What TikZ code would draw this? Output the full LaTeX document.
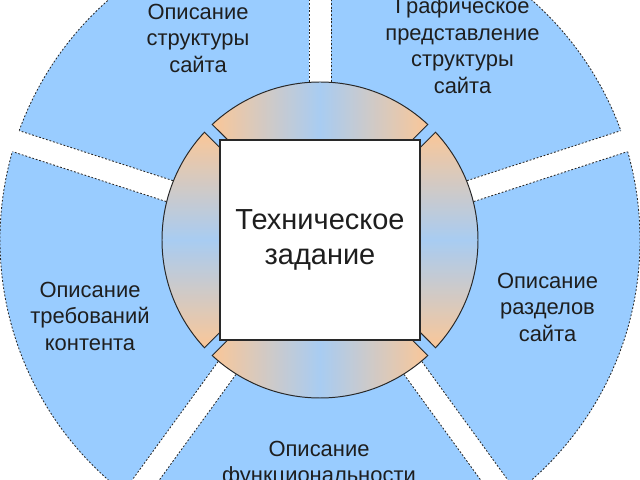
\documentclass[tikz,border=0pt]{standalone}
\usepackage{fontspec}
\setmainfont{Liberation Sans}
\definecolor{skyb}{RGB}{153,204,255}
\definecolor{orng}{RGB}{250,199,152}
\definecolor{midb}{RGB}{168,204,242}
\definecolor{edgec}{RGB}{40,40,40}
\definecolor{txt}{RGB}{30,30,30}
\tikzset{
  dashedge/.style={draw=edgec, line width=0.6pt, dash pattern=on 1.3pt off 1.3pt},
  segline/.style={draw=edgec, line width=0.7pt},
  outlabel/.style={inner sep=0pt, anchor=north, align=center, text=txt,
    font=\fontsize{15.6}{18.8}\selectfont},
  centerbox/.style={draw=edgec, line width=1.2pt, fill=white, minimum size=5cm,
    inner sep=0pt, align=center, text=txt, font=\fontsize{20.6}{24.9}\selectfont},
}
\begin{document}
\begin{tikzpicture}[scale=0.025]
\useasboundingbox (-320,-240) rectangle (320,240);
\clip (-320,-240) rectangle (320,240);
% outer blue disk
\fill[skyb] (0,0) circle (320);
\draw[dashedge] (0,0) circle (320);
% white separating bands
\foreach \a in {18,90,162,234,306} {
  \fill[white, rotate=\a] (140,-11) rectangle (345,11);
  \draw[dashedge, rotate=\a] (140,-11) -- (319.8,-11) (140,11) -- (319.8,11);
}
% inner disk
\fill[skyb] (0,0) circle (158);
% orange segments
\shade[segline, left color=orng, right color=orng, middle color=midb]
  (-92.2,100) -- (133:158) arc[start angle=133, end angle=47, radius=158] -- (92.2,100) -- cycle;
\shade[segline, top color=orng, bottom color=orng, middle color=midb]
  (100,92.2) -- (43:158) arc[start angle=43, end angle=-43, radius=158] -- (100,-92.2) -- cycle;
\shade[segline, left color=orng, right color=orng, middle color=midb]
  (92.2,-100) -- (-47:158) arc[start angle=-47, end angle=-133, radius=158] -- (-92.2,-100) -- cycle;
\shade[segline, top color=orng, bottom color=orng, middle color=midb]
  (-100,-92.2) -- (-137:158) arc[start angle=-137, end angle=-223, radius=158] -- (-100,92.2) -- cycle;
% central square
\node[centerbox] (tz) at (0,0) {Техническое\\задание};
% outer labels
\node[outlabel] (l1) at (-122,236.2) {Описание\\структуры\\сайта};
\node[outlabel] (l2) at (142.5,242.2) {Графическое\\представление\\структуры\\сайта};
\node[outlabel] (l3) at (227.5,-32.8) {Описание\\разделов\\сайта};
\node[outlabel] (l4) at (-230,-41.8) {Описание\\требований\\контента};
\node[outlabel] (l5) at (-1,-200.8) {Описание\\функциональности};
\end{tikzpicture}
\end{document}
